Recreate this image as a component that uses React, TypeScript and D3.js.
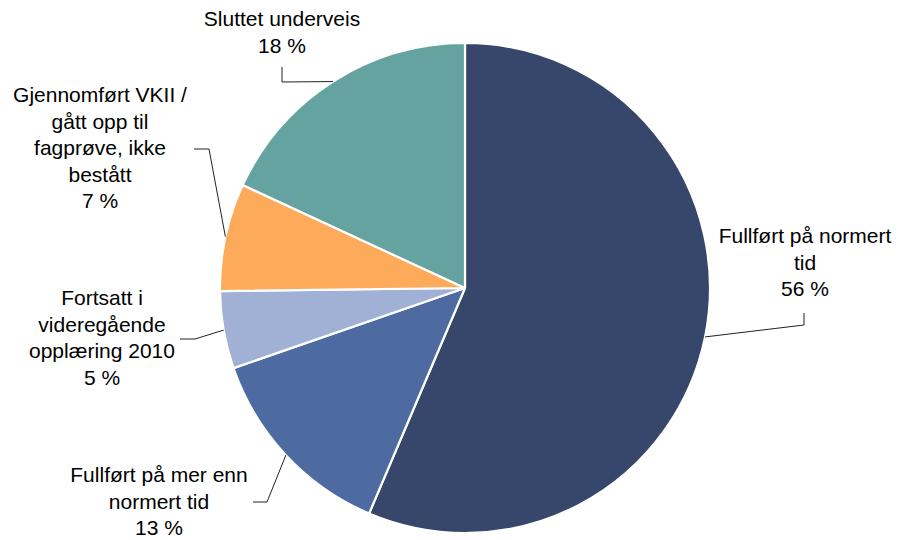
import React from "react";
import * as d3 from "d3";

const categories = [
  "Fullført på normert tid",
  "Fullført på mer enn normert tid",
  "Fortsatt i videregående opplæring 2010",
  "Gjennomført VKII / gått opp til fagprøve, ikke bestått",
  "Sluttet underveis",
];
const values = [56.4, 13.3, 5.1, 7.1, 18.1];
const percentLabels = ["56 %", "13 %", "5 %", "7 %", "18 %"];
const labelLines = [
  ["Fullført på normert", "tid"],
  ["Fullført på mer enn", "normert tid"],
  ["Fortsatt i", "videregående", "opplæring 2010"],
  ["Gjennomført VKII /", "gått opp til", "fagprøve, ikke", "bestått"],
  ["Sluttet underveis"],
];
const colors = ["#36476B", "#4E6BA1", "#A0B1D5", "#FDAA5B", "#65A3A1"];

// layout: label text centre/first baseline, and leader elbow + end
const labelLayout = [
  { x: 805, y: 243, elbow: [804, 325], end: [804, 313] },
  { x: 159, y: 482, elbow: [267, 502], end: [253, 502] },
  { x: 102, y: 305, elbow: [195, 339], end: [180, 339] },
  { x: 100, y: 102, elbow: [209, 149], end: [194, 149] },
  { x: 282, y: 26, elbow: [282, 82], end: [282, 67] },
];

const W = 907;
const H = 540;
const cx = 465;
const cy = 288;
const R = 245;
const LH = 26.6;

export default function App() {
  const pie = d3.pie<number>().sort(null).value((d) => d);
  const arcs = pie(values);
  const arcGen = d3.arc<d3.PieArcDatum<number>>().innerRadius(0).outerRadius(R);
  const outer = d3.arc<d3.PieArcDatum<number>>().innerRadius(R).outerRadius(R);

  return (
    <svg
      width={W}
      height={H}
      style={{ position: "absolute", left: 0, top: 0, background: "#fff" }}
      fontFamily="'Liberation Sans', Arial, sans-serif"
    >
      <g transform={`translate(${cx},${cy})`}>
        {arcs.map((a, i) => (
          <path key={categories[i]} d={arcGen(a) || ""} fill={colors[i]} stroke="#fff" strokeWidth={2.2} strokeLinejoin="round" />
        ))}
      </g>
      {arcs.map((a, i) => {
        const [px, py] = outer.centroid(a);
        const L = labelLayout[i];
        const pts = [[px + cx, py + cy], L.elbow, L.end];
        return (
          <polyline
            key={"l" + i}
            points={pts.map((p) => p.join(",")).join(" ")}
            fill="none"
            stroke="#222"
            strokeWidth={1}
          />
        );
      })}
      {arcs.map((a, i) => {
        const L = labelLayout[i];
        const lines = [...labelLines[i], percentLabels[i]];
        return (
          <text key={"t" + i} x={L.x} y={L.y} textAnchor="middle" fontSize={21} fill="#000">
            {lines.map((ln, j) => (
              <tspan key={j} x={L.x} y={L.y + j * LH}>
                {ln}
              </tspan>
            ))}
          </text>
        );
      })}
    </svg>
  );
}
